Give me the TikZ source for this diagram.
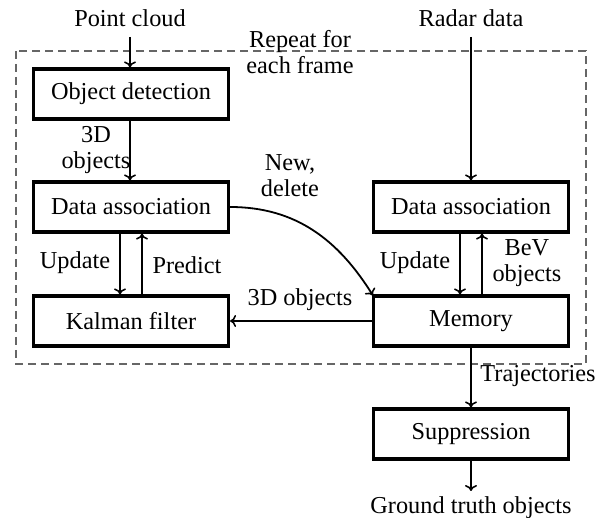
\documentclass[tikz,border=0pt]{standalone}
\usepackage{fontspec}
\setmainfont{Liberation Serif}
\usetikzlibrary{arrows.meta}
\begin{document}
\begin{tikzpicture}[x=1pt,y=-1pt,
  font=\rmfamily\fontsize{24.3}{26}\selectfont,
  box/.style={draw,line width=3.2pt,minimum width=195pt,minimum height=50pt,inner sep=0pt},
  lbl/.style={inner sep=0pt,align=center},
  conn/.style={line width=1.8pt,-{To[length=6pt,width=12pt,line width=1.6pt]}},
  frame/.style={draw=black!60,line width=1.3pt,dash pattern=on 8pt off 5pt}
]
\useasboundingbox (0,0) rectangle (598,518);
\draw[frame] (16,51) rectangle (586,364);

\node[box] (od) at (131,94) {Object detection};
\node[box] (da1) at (131,207) {Data association};
\node[box] (kf) at (131,321) {Kalman filter};
\node[box] (da2) at (471,207) {Data association};
\node[box] (mem) at (471,321) {Memory};
\node[box] (sup) at (471,434) {Suppression};

\node[lbl] (pc) at (130,18) {Point cloud};
\node[lbl] (rd) at (471,18) {Radar data};
\node[lbl] (rep) at (300,52) {Repeat for\\each frame};
\node[lbl] (o3d) at (96,150) {3D\\objects};
\node[lbl] (nd) at (290,176) {New,\\delete};
\node[lbl] (up1) at (75,263) {Update};
\node[lbl] (pr) at (187,265) {Predict};
\node[lbl] (up2) at (415,263) {Update};
\node[lbl] (bev) at (527,263) {BeV\\objects};
\node[lbl] (o3d2) at (300,300) {3D objects};
\node[lbl] (traj) at (538,376) {Trajectories};
\node[lbl] (gt) at (471,508) {Ground truth objects};

\coordinate (pcs) at (130,37);
\coordinate (rds) at (471,37);
\coordinate (gtn) at (471,491);

\draw[conn] (pcs) -- (od.north -| pcs);
\draw[conn] (od.south -| pcs) -- (da1.north -| pcs);
\draw[conn] ([xshift=-11pt]da1.south) -- ([xshift=-11pt]kf.north);
\draw[conn] ([xshift=11pt]kf.north) -- ([xshift=11pt]da1.south);
\draw[conn] (rds) -- (da2.north);
\draw[conn] ([xshift=-11pt]da2.south) -- ([xshift=-11pt]mem.north);
\draw[conn] ([xshift=11pt]mem.north) -- ([xshift=11pt]da2.south);
\draw[conn] (mem.west) -- (kf.east);
\draw[conn] (da1.east) to[out=0,in=122] ([xshift=1pt,yshift=-1pt]mem.north west);
\draw[conn] (mem.south) -- (sup.north);
\draw[conn] (sup.south) -- (gtn);
\end{tikzpicture}
\end{document}
